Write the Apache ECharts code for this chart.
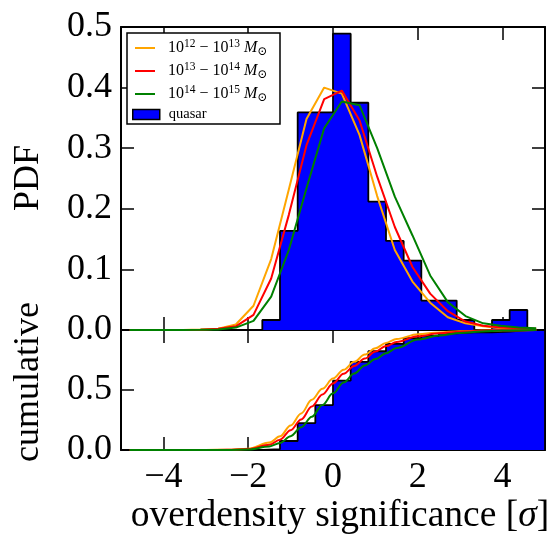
<!DOCTYPE html>
<html>
<head>
<meta charset="utf-8">
<script src="https://cdn.jsdelivr.net/npm/echarts@6/dist/echarts.min.js"></script>
<style>html,body{margin:0;padding:0;background:#fff;}#c{width:559px;height:548px;}</style>
</head>
<body>
<div id="c"></div>
<script>
// ---- data ----
const binEdges = [-5, -4.583, -4.167, -3.75, -3.333, -2.917, -2.5, -2.083, -1.667, -1.25, -0.833, -0.417, 0, 0.417, 0.833, 1.25, 1.667, 2.083, 2.5, 2.917, 3.333, 3.75, 4.167, 4.583, 5];
const pdfQuasar = [0, 0, 0, 0, 0, 0, 0, 0, 0.0165, 0.1635, 0.359, 0.359, 0.489, 0.375, 0.212, 0.147, 0.1145, 0.0485, 0.0485, 0.0165, 0, 0.0165, 0.033, 0];
const cumQuasar = [0, 0, 0, 0, 0, 0, 0, 0, 0.007, 0.075, 0.224, 0.374, 0.578, 0.735, 0.823, 0.884, 0.932, 0.952, 0.973, 0.980, 0.980, 0.986, 1.0, 1.0];

const binCenters = [-4.792, -4.375, -3.958, -3.542, -3.125, -2.708, -2.292, -1.875, -1.458, -1.042, -0.625, -0.208, 0.208, 0.625, 1.042, 1.458, 1.875, 2.292, 2.708, 3.125, 3.542, 3.958, 4.375, 4.792];
const pdfOrange = [0, 0, 0, 0.0002, 0.0008, 0.002, 0.009, 0.040, 0.117, 0.232, 0.348, 0.400, 0.390, 0.322, 0.221, 0.132, 0.080, 0.045, 0.021, 0.011, 0.006, 0.003, 0.002, 0.001];
const pdfRed    = [0, 0, 0, 0.0001, 0.0005, 0.002, 0.006, 0.025, 0.085, 0.190, 0.305, 0.381, 0.395, 0.346, 0.253, 0.170, 0.104, 0.060, 0.031, 0.014, 0.007, 0.004, 0.003, 0.002];
const pdfGreen  = [0, 0, 0, 0, 0.0003, 0.001, 0.004, 0.015, 0.055, 0.132, 0.234, 0.333, 0.377, 0.371, 0.300, 0.220, 0.156, 0.090, 0.046, 0.023, 0.011, 0.007, 0.004, 0.003];

const cumX      = [-4.792, -3.5, -3.0, -2.5, -2.0, -1.5, -1.25, -1.0, -0.75, -0.5, -0.25, 0, 0.25, 0.5, 0.75, 1.0, 1.25, 1.5, 2.0, 2.5, 3.0, 3.5, 4.0, 4.792];
const cumOrange = [0, 0, 0.0005, 0.002, 0.011, 0.062, 0.114, 0.205, 0.305, 0.418, 0.510, 0.595, 0.668, 0.735, 0.795, 0.848, 0.892, 0.925, 0.965, 0.980, 0.990, 0.995, 0.998, 1.0];
const cumRed    = [0, 0, 0.0003, 0.0015, 0.008, 0.044, 0.086, 0.165, 0.255, 0.363, 0.463, 0.555, 0.635, 0.700, 0.762, 0.820, 0.866, 0.900, 0.947, 0.972, 0.986, 0.993, 0.997, 1.0];
const cumGreen  = [0, 0, 0.0002, 0.001, 0.005, 0.030, 0.058, 0.115, 0.190, 0.277, 0.375, 0.472, 0.562, 0.637, 0.705, 0.758, 0.806, 0.850, 0.920, 0.955, 0.975, 0.988, 0.995, 0.999];

const xTicks = [-4, -2, 0, 2, 4];
const legendLabels = {
  m12: '{a|10}{s|12}{a| − 10}{s|13}{m| M}{o|⊙}',
  m13: '{a|10}{s|13}{a| − 10}{s|14}{m| M}{o|⊙}',
  m14: '{a|10}{s|14}{a| − 10}{s|15}{m| M}{o|⊙}'
};
// --------------------------------------

const FONT = "'Liberation Serif', 'DejaVu Serif', serif";
const pair = (xs, ys) => xs.map((x, i) => [x, ys[i]]);
function stepData(edges, vals) {
  const d = vals.map((v, i) => [edges[i], v]);
  d.push([edges[edges.length - 1], vals[vals.length - 1]]);
  d.push([edges[edges.length - 1], 0]);
  return d;
}
const fmtX = v => (v < 0 ? '\u2212' + Math.abs(v) : String(v));

function xAx(grid, pos, labels) {
  return {
    type: 'value', gridIndex: grid, position: pos, min: -5, max: 5,
    axisLine: { onZero: false, lineStyle: { color: '#000', width: 2 } },
    axisTick: { inside: true, length: 13, customValues: xTicks, lineStyle: { color: '#000', width: 1.5 } },
    axisLabel: labels ? { show: true, customValues: xTicks, formatter: fmtX, fontSize: 36, fontFamily: FONT, color: '#000', margin: 10 } : { show: false },
    splitLine: { show: false }
  };
}
function yAx(grid, pos, max, interval, labels) {
  return {
    type: 'value', gridIndex: grid, position: pos, min: 0, max: max, interval: interval,
    axisLine: { onZero: false, lineStyle: { color: '#000', width: 2 } },
    axisTick: { inside: true, length: 13, lineStyle: { color: '#000', width: 1.5 } },
    axisLabel: labels ? { show: true, formatter: v => v.toFixed(1), fontSize: 36, fontFamily: FONT, color: '#000', margin: 9, showMaxLabel: grid === 0 } : { show: false },
    splitLine: { show: false }
  };
}

const colors = { m12: '#ffa500', m13: '#ff0000', m14: '#008000' };
function curve(name, data, xi, yi, smooth) {
  return {
    type: 'line', name: name, xAxisIndex: xi, yAxisIndex: yi, data: data,
    symbol: 'none', smooth: smooth ? 0.35 : false, smoothMonotone: 'x',
    lineStyle: { color: colors[name], width: 2 }, itemStyle: { color: colors[name] },
    z: 3, silent: true, animation: false
  };
}
function hist(data, xi, yi) {
  return {
    type: 'line', name: 'quasar', xAxisIndex: xi, yAxisIndex: yi, data: data, step: 'end',
    symbol: 'none', lineStyle: { color: '#000', width: 1.8 },
    areaStyle: { color: '#0000ff', opacity: 1 },
    itemStyle: { color: '#0000ff', borderColor: '#000', borderWidth: 1.5 },
    z: 1, silent: true, animation: false
  };
}
const lineItem = n => ({ name: n, icon: 'rect', itemStyle: { color: colors[n], borderWidth: 0 } });

const chart = echarts.init(document.getElementById('c'), null, { renderer: 'canvas' });
chart.setOption({
  animation: false,
  backgroundColor: '#fff',
  grid: [
    { left: 121, top: 27, width: 424, height: 303 },
    { left: 121, top: 330, width: 424, height: 120 }
  ],
  xAxis: [xAx(0, 'bottom', false), xAx(0, 'top', false), Object.assign(xAx(1, 'bottom', true), {
    name: '{n|overdensity significance [}{i|σ}{n|]}', nameLocation: 'middle', nameGap: 46,
    nameTextStyle: { padding: [0, 0, 0, 14], rich: { n: { fontSize: 37.5, fontFamily: FONT, color: '#000' }, i: { fontSize: 37.5, fontFamily: FONT, fontStyle: 'italic', color: '#000' } } }
  }), xAx(1, 'top', false)],
  yAxis: [yAx(0, 'left', 0.5, 0.1, true), yAx(0, 'right', 0.5, 0.1, false), yAx(1, 'left', 1, 0.5, true), yAx(1, 'right', 1, 0.5, false)],
  legend: [
    {
      data: ['m12', 'm13', 'm14'].map(lineItem), orient: 'vertical', left: 135, top: 38, padding: 0,
      itemWidth: 20, itemHeight: 2, itemGap: 3, selectedMode: false, z: 10,
      formatter: n => legendLabels[n],
      textStyle: {
        padding: [0, 0, 0, 8],
        rich: {
          a: { fontSize: 16, fontFamily: FONT, color: '#000', lineHeight: 20, verticalAlign: 'middle' },
          m: { fontSize: 16, fontFamily: FONT, fontStyle: 'italic', color: '#000', lineHeight: 20, verticalAlign: 'middle' },
          s: { fontSize: 11.5, fontFamily: FONT, color: '#000', lineHeight: 11, verticalAlign: 'top' },
          o: { fontSize: 12, fontFamily: FONT, color: '#000', lineHeight: 11, verticalAlign: 'bottom' }
        }
      }
    },
    {
      data: [{ name: 'quasar', icon: 'rect', itemStyle: { color: '#0000ff', borderColor: '#000', borderWidth: 1.5 } }],
      left: 132, top: 107, padding: 0, itemWidth: 27, itemHeight: 10, selectedMode: false, z: 10,
      textStyle: { fontSize: 14.5, fontFamily: FONT, color: '#000', padding: [0, 0, 0, 4] }
    }
  ],
  graphic: [
    { type: 'rect', shape: { x: 127, y: 33, width: 153, height: 91 }, style: { fill: '#fff', stroke: '#000', lineWidth: 1.5 }, z: 5 },
    { type: 'text', x: 29, y: 178, rotation: Math.PI / 2, style: { text: 'PDF', fontSize: 36, fontFamily: FONT, fill: '#000', textAlign: 'center', textVerticalAlign: 'middle' }, z: 5 },
    { type: 'text', x: 29, y: 382, rotation: Math.PI / 2, style: { text: 'cumulative', fontSize: 36, fontFamily: FONT, fill: '#000', textAlign: 'center', textVerticalAlign: 'middle' }, z: 5 }
  ],
  series: [
    hist(stepData(binEdges, pdfQuasar), 0, 0),
    curve('m12', pair(binCenters, pdfOrange), 0, 0, false),
    curve('m13', pair(binCenters, pdfRed), 0, 0, false),
    curve('m14', pair(binCenters, pdfGreen), 0, 0, false),
    hist(stepData(binEdges, cumQuasar), 2, 2),
    curve('m12', pair(cumX, cumOrange), 2, 2, true),
    curve('m13', pair(cumX, cumRed), 2, 2, true),
    curve('m14', pair(cumX, cumGreen), 2, 2, true)
  ]
});
</script>
</body>
</html>
